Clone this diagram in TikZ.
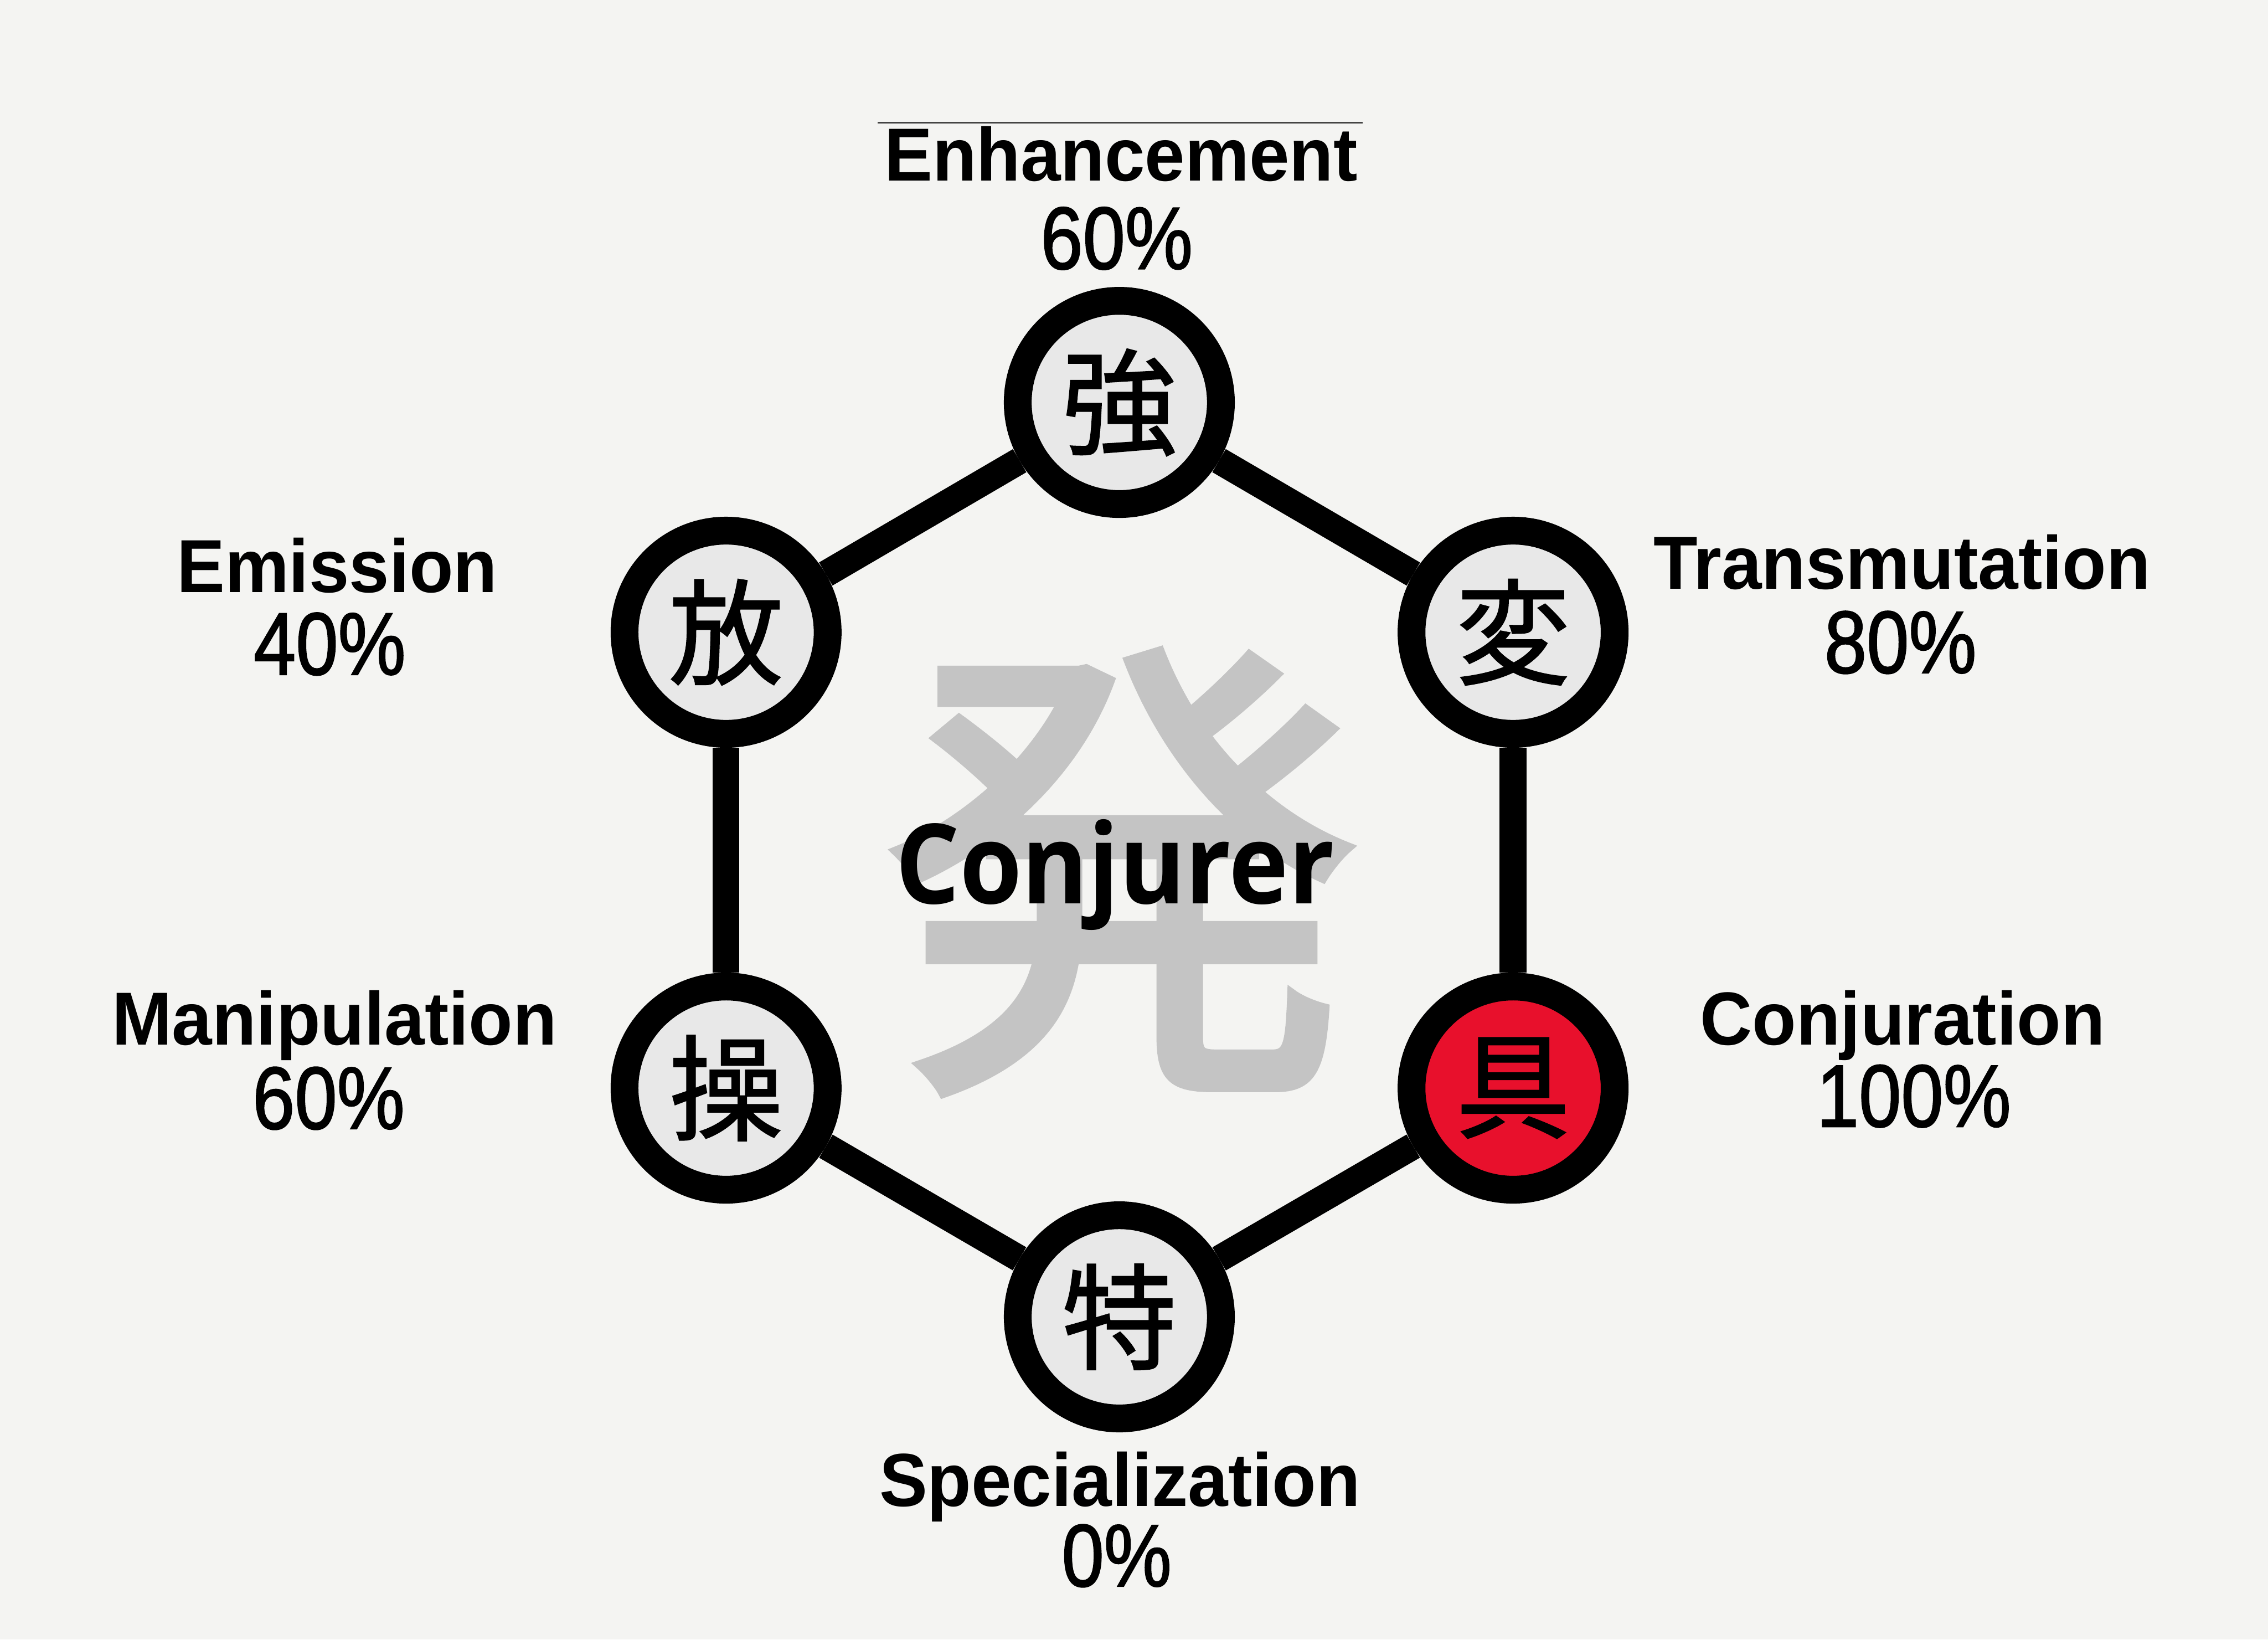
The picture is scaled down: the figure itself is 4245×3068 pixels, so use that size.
\documentclass[tikz,border=0pt]{standalone}
\usepackage{fontspec}
\usepackage{graphicx}
\newfontfamily\lblfont{Liberation Sans}
\newfontfamily\pctfont{Liberation Sans}[FakeBold=1.6]
\newfontfamily\cjkfont{Noto Sans CJK JP}[FakeBold=1.2]
\newfontfamily\cjkbigfont{Noto Sans CJK JP}[FakeBold=2]
\newfontfamily\centerfont{Open Sans}
\definecolor{bgcol}{HTML}{F4F4F2}
\definecolor{ringfill}{HTML}{E8E8E8}
\definecolor{redfill}{HTML}{E8102C}
\definecolor{bigchar}{HTML}{C4C4C4}
\definecolor{rulecol}{HTML}{444444}
\pgfdeclarelayer{bg}
\pgfdeclarelayer{edges}
\pgfsetlayers{bg,edges,main}
\newcommand\lblname[1]{{\lblfont\bfseries\fontsize{40}{48}\selectfont\scalebox{0.96}[1]{#1}}}
\newcommand\lblpct[1]{{\pctfont\fontsize{47}{56}\selectfont\scalebox{0.86}[1]{#1}}}
\tikzset{
  ring/.style={circle, draw=black, line width=0.52cm, fill=ringfill,
    minimum size=3.8cm, inner sep=0pt,
    font=\cjkfont\fontsize{61}{61}\selectfont},
  conn/.style={draw=black, line width=0.5cm},
  txt/.style={anchor=base, inner sep=0pt, outer sep=0pt}
}
\begin{document}
\begin{tikzpicture}[x=0.01cm, y=-0.01cm]
\begin{pgfonlayer}{bg}
\fill[bgcol] (0,0) rectangle (4245,3068);
\end{pgfonlayer}
\useasboundingbox (0,0) rectangle (4245,3068);

% big background character and centre title
\node[inner sep=0pt, text=bigchar, font=\cjkbigfont\fontsize{255}{255}\selectfont] (hatsu) at (2100,1632) {発};
\node[txt, font=\centerfont\bfseries\fontsize{59}{70}\selectfont] (conj) at (2087,1691) {\scalebox{0.91}[1]{Conjurer}};

% circles
\node[ring] (enh) at (2095,753) {強};
\node[ring] (tra) at (2832,1183) {変};
\node[ring, fill=redfill] (cnj) at (2832,2036) {具};
\node[ring] (spe) at (2095,2464) {特};
\node[ring] (man) at (1359,2036) {操};
\node[ring] (emi) at (1359,1183) {放};

% connectors
\begin{pgfonlayer}{edges}
\draw[conn] (enh) -- (tra);
\draw[conn] (tra) -- (cnj);
\draw[conn] (cnj) -- (spe);
\draw[conn] (spe) -- (man);
\draw[conn] (man) -- (emi);
\draw[conn] (emi) -- (enh);
\end{pgfonlayer}

% top rule
\coordinate (ruleL) at (1643,230);
\coordinate (ruleR) at (2550,230);
\draw[rulecol, line width=0.03cm] (ruleL) -- (ruleR);

% labels
\node[txt] (enhN) at (2098,338) {\lblname{Enhancement}};
\node[txt] (enhP) at (2090,503) {\lblpct{60\%}};
\node[txt] (traN) at (3560,1102) {\lblname{Transmutation}};
\node[txt] (traP) at (3557,1259) {\lblpct{80\%}};
\node[txt] (emiN) at (631,1108) {\lblname{Emission}};
\node[txt] (emiP) at (617,1262) {\lblpct{40\%}};
\node[txt] (manN) at (626,1955) {\lblname{Manipulation}};
\node[txt] (manP) at (615,2112) {\lblpct{60\%}};
\node[txt] (cnjN) at (3561,1955) {\lblname{Conjuration}};
\node[txt] (cnjP) at (3582,2108) {\lblpct{100\%}};
\node[txt] (speN) at (2096,2818) {\lblname{Specialization}};
\node[txt] (speP) at (2090,2968) {\lblpct{0\%}};
\end{tikzpicture}
\end{document}
